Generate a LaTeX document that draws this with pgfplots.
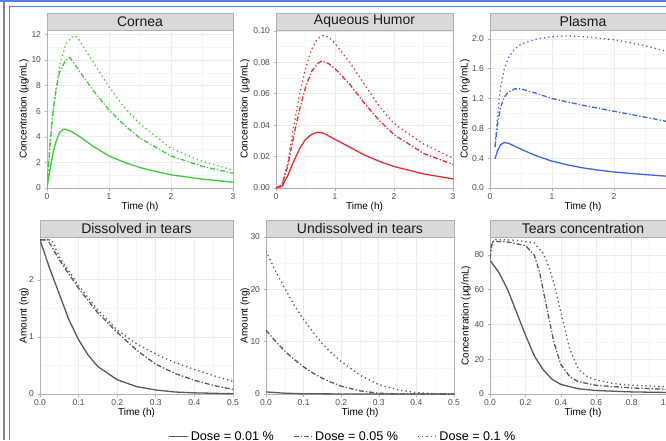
\documentclass[border=0pt]{standalone}
\usepackage{pgfplots}
\pgfplotsset{compat=1.18}
\usepackage{fontspec}
\setmainfont{Liberation Sans}
\definecolor{cgreen}{HTML}{3DC93D}
\definecolor{cred}{HTML}{E22D2D}
\definecolor{cblue}{HTML}{3D66E3}
\definecolor{cgray}{HTML}{595959}
\definecolor{stripfill}{HTML}{D9D9D9}
\definecolor{bordergray}{HTML}{B0B0B0}
\definecolor{gridmaj}{HTML}{EBEBEB}
\definecolor{gridmin}{HTML}{F5F5F5}
\definecolor{ticktext}{HTML}{4D4D4D}
\definecolor{frameblue}{HTML}{5B7FD6}
\definecolor{framegray}{HTML}{8A7FA0}
\pgfplotsset{
  panel/.style={
    scale only axis, anchor=south west,
    axis line style={draw=bordergray, line width=0.8pt},
    grid=both,
    major grid style={draw=gridmaj, line width=0.7pt},
    minor grid style={draw=gridmin, line width=0.5pt},
    minor tick num=1,
    minor tick length=0pt,
    tick align=outside, major tick length=2.5pt,
    tick pos=left,
    tick style={draw=bordergray, line width=0.6pt},
    ticklabel style={font=\fontsize{8.5}{9}\selectfont, text=ticktext},
    /pgf/number format/assume math mode=true,
    label style={font=\fontsize{11.5}{13}\selectfont, text=black!90},
    every axis x label/.style={at={(axis description cs:0.5,0)}, anchor=center},
    every axis y label/.style={at={(axis description cs:0,0.5)}, anchor=center, rotate=90},
    clip mode=individual,
    legend image code/.code={\draw[#1] (0pt,0pt) -- (19pt,0pt);},
  },
  sol/.style={line width=1.3pt},
  dd/.style={line width=1.3pt, dash pattern=on 5pt off 2pt on 1.3pt off 2pt},
  dt/.style={line width=1.3pt, dash pattern=on 1.3pt off 3pt},
}
\newcommand{\strip}[1]{%
  \draw[fill=stripfill, draw=bordergray, line width=0.8pt] (rel axis cs:0,1) rectangle ([yshift=17pt]rel axis cs:1,1);
  \node[font=\fontsize{14}{16}\selectfont, text=black!90] at ([yshift=8.5pt]rel axis cs:0.5,1) {#1};}
\begin{document}
\begin{tikzpicture}
\useasboundingbox (0pt,0pt) rectangle (666pt,440pt);
\clip (0pt,0pt) rectangle (666pt,440pt);
\fill[white] (0pt,0pt) rectangle (666pt,440pt);
% screenshot frame
\fill[frameblue] (0pt,438pt) rectangle (666pt,440pt);
\fill[frameblue] (8.5pt,432.5pt) rectangle (666pt,434pt);
\fill[framegray] (3pt,0pt) rectangle (4.5pt,438pt);
\fill[frameblue] (8.5pt,0pt) rectangle (10pt,434pt);

% ---------------- Cornea
\begin{axis}[panel, at={(47pt,252pt)}, width=186pt, height=158pt,
  xmin=0, xmax=3, ymin=0, ymax=12.35,
  xtick={0,1,2,3}, ytick={0,2,4,6,8,10,12},
  xlabel={Time (h)}, ylabel={Concentration (µg/mL)},
  xlabel style={yshift=-19pt}, ylabel style={yshift=23pt}]
\addplot[sol, cgreen] coordinates {(0,0) (0.05,1.5) (0.1,2.8) (0.15,3.7) (0.2,4.3) (0.25,4.55) (0.3,4.6) (0.4,4.4) (0.5,4.1) (0.75,3.25) (1.0,2.5) (1.25,2.0) (1.5,1.6) (1.75,1.3) (2.0,1.03) (2.5,0.7) (3.0,0.45)};
\addplot[dd, cgreen] coordinates {(0,0) (0.05,3.5) (0.1,6.0) (0.15,7.8) (0.2,9.0) (0.3,10.0) (0.37,10.2) (0.5,9.3) (0.75,7.6) (1.0,6.1) (1.25,4.9) (1.5,3.9) (2.0,2.5) (2.5,1.7) (3.0,1.15)};
\addplot[dt, cgreen] coordinates {(0,0) (0.05,3.5) (0.1,6.2) (0.2,9.5) (0.3,11.2) (0.4,11.8) (0.45,11.9) (0.5,11.7) (0.75,9.8) (1.0,7.9) (1.25,6.3) (1.5,5.0) (2.0,3.1) (2.5,2.1) (3.0,1.4)};
\strip{Cornea}
\end{axis}

% ---------------- Aqueous Humor
\begin{axis}[panel, at={(276pt,252pt)}, width=177pt, height=158pt,
  xmin=0, xmax=3, ymin=0, ymax=0.1006,
  xtick={0,1,2,3}, ytick={0,0.02,0.04,0.06,0.08,0.1},
  yticklabel style={/pgf/number format/.cd, fixed, fixed zerofill, precision=2},
  xlabel={Time (h)}, ylabel={Concentration (µg/mL)},
  xlabel style={yshift=-19pt}, ylabel style={yshift=31pt}]
\addplot[sol, cred] coordinates {(0,0) (0.1,0.001) (0.2,0.008) (0.3,0.017) (0.4,0.025) (0.5,0.031) (0.6,0.034) (0.7,0.0355) (0.8,0.035) (1.0,0.031) (1.25,0.026) (1.5,0.021) (1.75,0.017) (2.0,0.0137) (2.5,0.009) (3.0,0.0058)};
\addplot[dd, cred] coordinates {(0,0) (0.1,0.002) (0.2,0.014) (0.3,0.033) (0.4,0.05) (0.5,0.064) (0.6,0.074) (0.7,0.079) (0.78,0.081) (0.9,0.079) (1.0,0.076) (1.25,0.066) (1.5,0.054) (1.75,0.043) (2.0,0.034) (2.5,0.022) (3.0,0.015)};
\addplot[dt, cred] coordinates {(0,0) (0.1,0.002) (0.2,0.016) (0.3,0.039) (0.4,0.06) (0.5,0.076) (0.6,0.088) (0.7,0.095) (0.8,0.097) (0.9,0.096) (1.0,0.092) (1.25,0.08) (1.5,0.066) (1.75,0.052) (2.0,0.041) (2.5,0.028) (3.0,0.019)};
\strip{Aqueous Humor}
\end{axis}

% ---------------- Plasma
\begin{axis}[panel, at={(490pt,252pt)}, width=186pt, height=158pt,
  xmin=0, xmax=3, ymin=0, ymax=2.12,
  xtick={0,1,2,3}, ytick={0,0.4,0.8,1.2,1.6,2.0},
  yticklabel style={/pgf/number format/.cd, fixed, fixed zerofill, precision=1},
  xlabel={Time (h)}, ylabel={Concentration (ng/mL)},
  xlabel style={yshift=-19pt}, ylabel style={yshift=25pt}]
\addplot[sol, cblue] coordinates {(0.08,0.39) (0.12,0.5) (0.17,0.58) (0.23,0.61) (0.3,0.6) (0.4,0.56) (0.5,0.52) (0.75,0.43) (1.0,0.36) (1.25,0.31) (1.5,0.27) (1.75,0.24) (2.0,0.215) (2.5,0.18) (3.0,0.15)};
\addplot[dd, cblue] coordinates {(0.08,0.55) (0.12,0.85) (0.17,1.08) (0.23,1.22) (0.3,1.29) (0.4,1.33) (0.5,1.33) (0.75,1.27) (1.0,1.2) (1.5,1.11) (2.0,1.03) (2.5,0.95) (3.0,0.87)};
\addplot[dt, cblue] coordinates {(0.08,0.55) (0.12,0.95) (0.17,1.35) (0.23,1.6) (0.3,1.75) (0.4,1.87) (0.5,1.93) (0.75,2.0) (1.0,2.03) (1.25,2.04) (1.5,2.03) (2.0,1.99) (2.5,1.91) (3.0,1.8)};
\strip{Plasma}
\end{axis}

% ---------------- Dissolved in tears
\begin{axis}[panel, at={(40pt,46pt)}, width=193pt, height=157pt,
  xmin=0, xmax=0.5, ymin=0, ymax=2.75,
  xtick={0,0.1,0.2,0.3,0.4,0.5}, ytick={0,1,2},
  xticklabel style={/pgf/number format/.cd, fixed, fixed zerofill, precision=1},
  xlabel={Time (h)}, ylabel={Amount (ng)},
  xlabel style={yshift=-18.7pt}, ylabel style={yshift=16pt},
  legend style={at={(axis description cs:1.57,-0.272)}, anchor=center, draw=none, fill=none,
    legend columns=3, font=\fontsize{12.6}{14}\selectfont,
    /tikz/every even column/.append style={column sep=17pt}}]
\addplot[sol, cgray] coordinates {(0,2.7) (0.025,2.2) (0.05,1.75) (0.075,1.3) (0.1,0.95) (0.125,0.68) (0.15,0.48) (0.2,0.25) (0.25,0.13) (0.3,0.07) (0.35,0.035) (0.4,0.02) (0.5,0.005)};
\addlegendentry{Dose = 0.01 \%}
\addplot[dd, cgray] coordinates {(0,2.7) (0.02,2.7) (0.05,2.35) (0.1,1.85) (0.15,1.42) (0.2,1.08) (0.25,0.77) (0.3,0.52) (0.35,0.36) (0.4,0.24) (0.45,0.15) (0.5,0.08)};
\addlegendentry{Dose = 0.05 \%}
\addplot[dt, cgray] coordinates {(0,2.7) (0.03,2.7) (0.05,2.4) (0.1,1.9) (0.15,1.47) (0.2,1.12) (0.25,0.88) (0.3,0.7) (0.35,0.55) (0.4,0.43) (0.45,0.32) (0.5,0.22)};
\addlegendentry{Dose = 0.1 \%}
\strip{Dissolved in tears}
\end{axis}

% ---------------- Undissolved in tears
\begin{axis}[panel, at={(266pt,46pt)}, width=188pt, height=157pt,
  xmin=0, xmax=0.5, ymin=0, ymax=30,
  xtick={0,0.1,0.2,0.3,0.4,0.5}, ytick={0,10,20,30},
  xticklabel style={/pgf/number format/.cd, fixed, fixed zerofill, precision=1},
  xlabel={Time (h)}, ylabel={Amount (ng)},
  xlabel style={yshift=-18.7pt}, ylabel style={yshift=21pt}]
\addplot[sol, cgray] coordinates {(0,0.4) (0.05,0.15) (0.1,0.05) (0.2,0.01) (0.5,0)};
\addplot[dd, cgray] coordinates {(0,12.2) (0.025,10.1) (0.05,8.2) (0.075,6.6) (0.1,5.2) (0.125,4.0) (0.15,3.0) (0.175,2.2) (0.2,1.5) (0.25,0.6) (0.3,0.15) (0.35,0.02) (0.5,0)};
\addplot[dt, cgray] coordinates {(0,27.3) (0.025,23.5) (0.05,20.2) (0.075,17.0) (0.1,14.2) (0.125,11.8) (0.15,9.6) (0.175,7.8) (0.2,6.2) (0.25,3.6) (0.3,1.8) (0.35,0.8) (0.4,0.25) (0.45,0.05) (0.5,0)};
\strip{Undissolved in tears}
\end{axis}

% ---------------- Tears concentration
\begin{axis}[panel, at={(490pt,46pt)}, width=186pt, height=157pt,
  xmin=0, xmax=1.05, ymin=0, ymax=90.4,
  xtick={0,0.2,0.4,0.6,0.8,1.0}, ytick={0,20,40,60,80},
  xticklabel style={/pgf/number format/.cd, fixed, fixed zerofill, precision=1},
  xlabel={Time (h)}, ylabel={Concentration (µg/mL)},
  xlabel style={yshift=-18.7pt}, ylabel style={yshift=24pt}]
\addplot[sol, cgray] coordinates {(0,77) (0.05,70) (0.1,60) (0.15,47) (0.2,34) (0.25,22) (0.3,14) (0.35,8.5) (0.4,5.5) (0.5,3) (0.6,2) (0.8,1.2) (1.05,0.8)};
\addplot[dd, cgray] coordinates {(0,78) (0.01,86) (0.02,88) (0.1,87.5) (0.2,85.5) (0.25,80) (0.28,70) (0.3,60) (0.33,45) (0.36,30) (0.4,17) (0.45,10) (0.5,7) (0.6,5) (0.8,3.5) (1.05,2.5)};
\addplot[dt, cgray] coordinates {(0,80) (0.01,87) (0.03,89) (0.15,88.5) (0.25,87) (0.3,81) (0.33,74) (0.36,64) (0.4,47) (0.45,26) (0.5,14) (0.55,10) (0.6,8) (0.7,6) (0.8,5) (1.05,4)};
\strip{Tears concentration}
\end{axis}
\end{tikzpicture}
\end{document}
